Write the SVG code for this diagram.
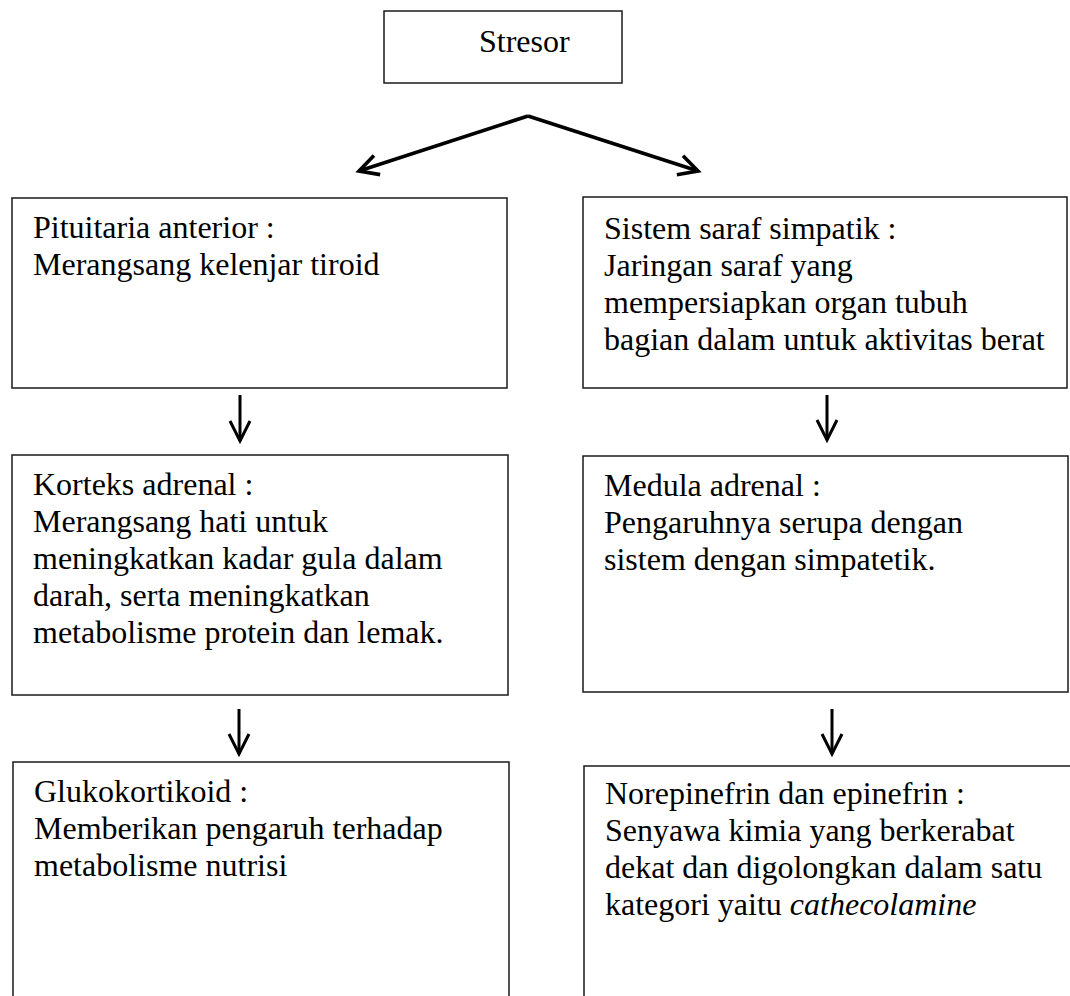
<svg xmlns="http://www.w3.org/2000/svg" width="1070" height="996" viewBox="0 0 1070 996">
<style>
  .box { fill: #ffffff; stroke: #1a1a1a; stroke-width: 1.5; }
  .t { font-family: "Liberation Serif", "Times New Roman", serif; font-size: 32px; fill: #000; }
  .it { font-style: italic; }
  .con { stroke: #000; fill: none; }
  .main { stroke-width: 3.6; }
  .down { stroke-width: 3; }
</style>
<defs>
  <marker id="vhead" markerUnits="userSpaceOnUse" refX="0" refY="0" orient="auto" overflow="visible" markerWidth="30" markerHeight="30">
    <path d="M-19,-10 L0,0 L-19,10" fill="none" stroke="#000" stroke-width="3.6" stroke-linejoin="miter"/>
  </marker>
  <marker id="dhead" markerUnits="userSpaceOnUse" refX="0" refY="0" orient="auto" overflow="visible" markerWidth="30" markerHeight="30">
    <path d="M-20,-10 L0,0 L-20,10" fill="none" stroke="#000" stroke-width="3" stroke-linejoin="miter"/>
  </marker>
</defs>
<rect width="1070" height="996" fill="#ffffff"/>

<g id="connectors">
  <path class="con main" d="M528,116 L359,171" marker-end="url(#vhead)"/>
  <path class="con main" d="M528,116 L698,171" marker-end="url(#vhead)"/>
  <path class="con down" d="M240,395 L240,441" marker-end="url(#dhead)"/>
  <path class="con down" d="M827,395 L827,440" marker-end="url(#dhead)"/>
  <path class="con down" d="M239,709 L239,754" marker-end="url(#dhead)"/>
  <path class="con down" d="M832,709 L832,754" marker-end="url(#dhead)"/>
</g>

<g id="stresor">
  <rect class="box" x="384" y="11" width="238" height="72"/>
  <text class="t" x="479" y="52">Stresor</text>
</g>

<g id="pituitaria">
  <rect class="box" x="12" y="198" width="495" height="190"/>
  <text class="t" x="33" y="238">Pituitaria anterior :</text>
  <text class="t" x="33" y="275">Merangsang kelenjar tiroid</text>
</g>

<g id="simpatik">
  <rect class="box" x="583" y="197" width="484" height="191"/>
  <text class="t" x="604" y="239">Sistem saraf simpatik :</text>
  <text class="t" x="604" y="276">Jaringan saraf yang</text>
  <text class="t" x="604" y="313">mempersiapkan organ tubuh</text>
  <text class="t" x="604" y="350">bagian dalam untuk aktivitas berat</text>
</g>

<g id="korteks">
  <rect class="box" x="12" y="455" width="496" height="240"/>
  <text class="t" x="33" y="495">Korteks adrenal :</text>
  <text class="t" x="33" y="532">Merangsang hati untuk</text>
  <text class="t" x="33" y="569">meningkatkan kadar gula dalam</text>
  <text class="t" x="33" y="606">darah, serta meningkatkan</text>
  <text class="t" x="33" y="643">metabolisme protein dan lemak.</text>
</g>

<g id="medula">
  <rect class="box" x="583" y="456" width="485" height="236"/>
  <text class="t" x="604" y="496">Medula adrenal :</text>
  <text class="t" x="604" y="533">Pengaruhnya serupa dengan</text>
  <text class="t" x="604" y="570">sistem dengan simpatetik.</text>
</g>

<g id="glukokortikoid">
  <rect class="box" x="13" y="762" width="496" height="250"/>
  <text class="t" x="34" y="802">Glukokortikoid :</text>
  <text class="t" x="34" y="839">Memberikan pengaruh terhadap</text>
  <text class="t" x="34" y="876">metabolisme nutrisi</text>
</g>

<g id="norepinefrin">
  <rect class="box" x="584" y="766" width="500" height="250"/>
  <text class="t" x="605" y="804">Norepinefrin dan epinefrin :</text>
  <text class="t" x="605" y="841">Senyawa kimia yang berkerabat</text>
  <text class="t" x="605" y="878">dekat dan digolongkan dalam satu</text>
  <text class="t" x="605" y="915">kategori yaitu <tspan class="it">cathecolamine</tspan></text>
</g>
</svg>
